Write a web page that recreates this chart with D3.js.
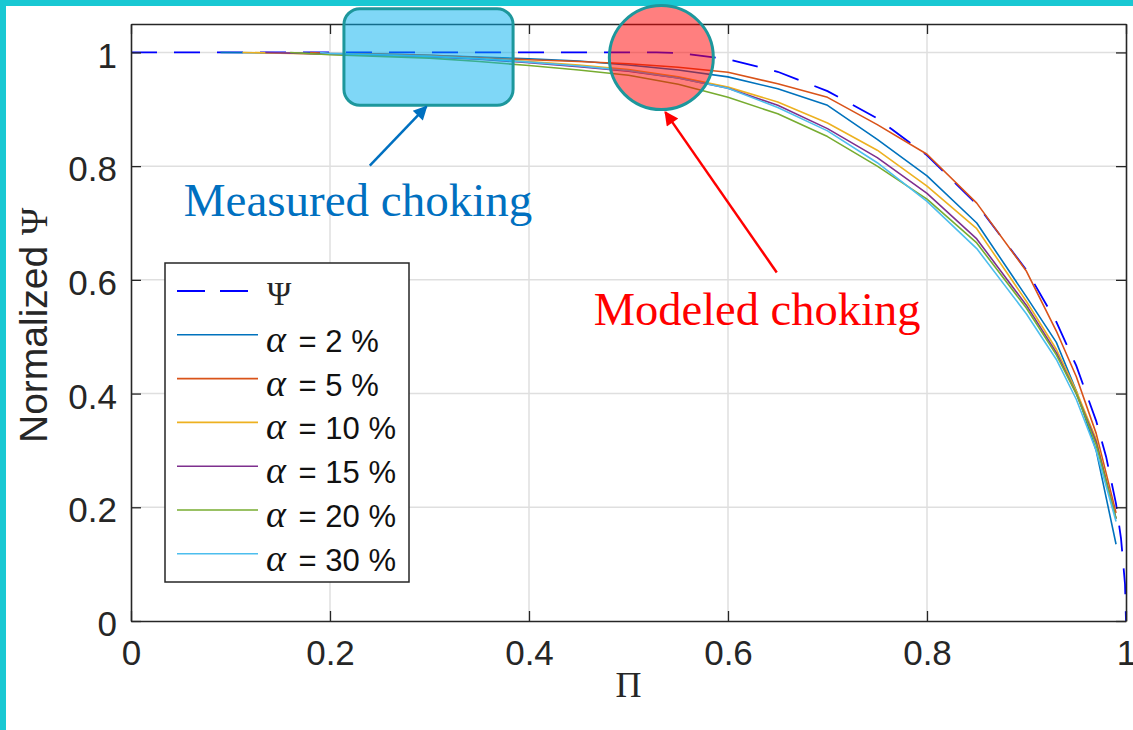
<!DOCTYPE html>
<html>
<head>
<meta charset="utf-8">
<script src="https://cdn.jsdelivr.net/npm/d3@7"></script>
<style>
  html, body { margin: 0; padding: 0; background: #fff; }
  svg { display: block; }
</style>
</head>
<body>
<svg id="chart" width="1133" height="730"></svg>
<script>
// Pressure ratio grid shared by the simulated curves
const piGrid = [0.2, 0.25, 0.3, 0.35, 0.4, 0.45, 0.5, 0.55, 0.6, 0.65, 0.7, 0.75, 0.8, 0.85, 0.9, 0.93, 0.95, 0.97, 0.99];

// Simulated normalized flow function for each air fraction alpha
const alphaLabels = ["2", "5", "10", "15", "20", "30"];
const alphaColors = ["#0072BD", "#D95319", "#EDB120", "#7E2F8E", "#77AC30", "#4DBEEE"];
const alphaStartPi = [0.09, 0.18, 0.112, 0.135, 0.16, 0.19];
const psiAlpha2  = [0.998, 0.997, 0.995, 0.992, 0.989, 0.985, 0.978, 0.969, 0.957, 0.936, 0.907, 0.847, 0.783, 0.700, 0.570, 0.490, 0.405, 0.300, 0.135];
const psiAlpha5  = [0.998, 0.997, 0.995, 0.991, 0.987, 0.984, 0.980, 0.974, 0.965, 0.945, 0.921, 0.873, 0.821, 0.735, 0.615, 0.510, 0.430, 0.330, 0.190];
const psiAlpha10 = [0.997, 0.995, 0.993, 0.989, 0.984, 0.978, 0.970, 0.957, 0.939, 0.913, 0.876, 0.828, 0.765, 0.690, 0.562, 0.478, 0.405, 0.320, 0.180];
const psiAlpha15 = [0.997, 0.995, 0.992, 0.988, 0.982, 0.975, 0.967, 0.955, 0.937, 0.907, 0.866, 0.815, 0.752, 0.672, 0.555, 0.472, 0.400, 0.315, 0.180];
const psiAlpha20 = [0.996, 0.993, 0.990, 0.984, 0.977, 0.969, 0.960, 0.944, 0.921, 0.892, 0.852, 0.800, 0.742, 0.665, 0.550, 0.468, 0.400, 0.310, 0.180];
const psiAlpha30 = [0.998, 0.996, 0.993, 0.989, 0.983, 0.976, 0.968, 0.955, 0.937, 0.903, 0.862, 0.806, 0.738, 0.655, 0.540, 0.460, 0.390, 0.300, 0.175];
const psiAlpha = [psiAlpha2, psiAlpha5, psiAlpha10, psiAlpha15, psiAlpha20, psiAlpha30];

// Ideal (isentropic) normalized flow function
const idealPi  = [0, 0.528, 0.55, 0.6, 0.65, 0.7, 0.75, 0.8, 0.85, 0.9, 0.93, 0.95, 0.97, 0.98, 0.99, 0.995, 0.999, 1.0];
const idealPsi = [1, 1, 0.999, 0.988, 0.966, 0.932, 0.884, 0.819, 0.733, 0.617, 0.526, 0.449, 0.352, 0.289, 0.206, 0.145, 0.065, 0];

// Axis ticks
const xTicks = [0, 0.2, 0.4, 0.6, 0.8, 1];
const yTicks = [0, 0.2, 0.4, 0.6, 0.8, 1];

const svg = d3.select("#chart");
const W = 1133, H = 730;
const margin = { left: 131, right: 7, top: 24, bottom: 109 };
const x = d3.scaleLinear().domain([0, 1]).range([margin.left, W - margin.right]);
const y = d3.scaleLinear().domain([0, 1.05]).range([H - margin.bottom, margin.top]);
const axisColor = "#262626";
const sans = "'Liberation Sans', Arial, sans-serif";
const serif = "'Liberation Serif', 'Times New Roman', serif";

// page frame
svg.append("rect").attr("x", 0).attr("y", 0).attr("width", W).attr("height", 6).attr("fill", "#19C8D3");
svg.append("rect").attr("x", 0).attr("y", 0).attr("width", 6).attr("height", H).attr("fill", "#19C8D3");

// grid
const grid = svg.append("g").attr("stroke", "#dfdfdf").attr("stroke-width", 1.5);
grid.selectAll("line.gx").data(xTicks.filter(d => d > 0 && d < 1)).join("line")
  .attr("x1", d => x(d)).attr("x2", d => x(d)).attr("y1", y(0)).attr("y2", y(1.05));
grid.selectAll("line.gy").data(yTicks.filter(d => d > 0)).join("line")
  .attr("y1", d => y(d)).attr("y2", d => y(d)).attr("x1", x(0)).attr("x2", x(1));

// curves
const line = d3.line().x(d => x(d[0])).y(d => y(d[1]));
const plot = svg.append("g").attr("fill", "none");

const idealPts = idealPi.map((p, i) => [p, idealPsi[i]]);
plot.append("path").datum(idealPts).attr("d", line)
  .attr("stroke", "#0000FF").attr("stroke-width", 1.8).attr("stroke-dasharray", "26,17");

psiAlpha.forEach((vals, k) => {
  const pts = [[alphaStartPi[k], 1]].concat(
    piGrid.map((p, i) => [p, vals[i]]).filter(d => d[0] > alphaStartPi[k]));
  plot.append("path").datum(pts).attr("d", line)
    .attr("stroke", alphaColors[k]).attr("stroke-width", 1.6).attr("stroke-linejoin", "round");
});

// axes (inward ticks on all four sides)
const fmt = d3.format("~g");
function styleAxis(g) {
  g.selectAll("path.domain").attr("stroke", axisColor).attr("stroke-width", 1.6);
  g.selectAll(".tick line").attr("stroke", axisColor).attr("stroke-width", 1.3);
  g.selectAll(".tick text").attr("fill", axisColor).attr("font-family", sans).attr("font-size", 35);
}
svg.append("g").attr("transform", `translate(0,${y(0)})`)
  .call(d3.axisBottom(x).tickValues(xTicks).tickFormat(fmt).tickSize(-10).tickSizeOuter(0).tickPadding(19))
  .call(styleAxis);
svg.append("g").attr("transform", `translate(${x(0)},0)`)
  .call(d3.axisLeft(y).tickValues(yTicks).tickFormat(fmt).tickSize(-10).tickSizeOuter(0).tickPadding(14))
  .call(styleAxis)
  .call(g => g.selectAll(".tick text").attr("dy", "0.42em"));
svg.append("g").attr("transform", `translate(0,${y(1.05)})`)
  .call(d3.axisTop(x).tickValues(xTicks).tickFormat("").tickSize(-10).tickSizeOuter(0))
  .call(styleAxis);
svg.append("g").attr("transform", `translate(${x(1)},0)`)
  .call(d3.axisRight(y).tickValues(yTicks).tickFormat("").tickSize(-10).tickSizeOuter(0))
  .call(styleAxis);

// axis titles
svg.append("text").attr("x", x(0.5)).attr("y", 697).attr("text-anchor", "middle")
  .attr("font-family", serif).attr("font-size", 36).attr("fill", axisColor).text("Π");
const yTitle = svg.append("text").attr("transform", `translate(47,${y(0.52)}) rotate(-90)`)
  .attr("text-anchor", "middle").attr("fill", axisColor);
yTitle.append("tspan").attr("font-family", sans).attr("font-size", 39).text("Normalized ");
yTitle.append("tspan").attr("font-family", serif).attr("font-size", 37).text("Ψ");

// legend
const legend = svg.append("g");
legend.append("rect").attr("x", 165).attr("y", 263).attr("width", 244).attr("height", 319)
  .attr("fill", "#fff").attr("stroke", axisColor).attr("stroke-width", 1.5);
const rowY = i => 291 + i * 43.8;
legend.append("line").attr("x1", 177).attr("x2", 258).attr("y1", rowY(0)).attr("y2", rowY(0))
  .attr("stroke", "#0000FF").attr("stroke-width", 1.8).attr("stroke-dasharray", "28,15");
legend.append("text").attr("x", 267).attr("y", rowY(0) + 14)
  .attr("font-family", serif).attr("font-size", 33).attr("fill", axisColor).text("Ψ");
alphaLabels.forEach((lab, k) => {
  const yy = rowY(k + 1);
  legend.append("line").attr("x1", 177).attr("x2", 258).attr("y1", yy).attr("y2", yy)
    .attr("stroke", alphaColors[k]).attr("stroke-width", 1.6);
  const t = legend.append("text").attr("x", 266).attr("y", yy + 17).attr("fill", "#111");
  t.append("tspan").attr("font-family", serif).attr("font-style", "italic").attr("font-size", 38).text("α");
  t.append("tspan").attr("font-family", sans).attr("font-size", 31).attr("dx", 4).text(` = ${lab} %`);
});

// annotations
const defs = svg.append("defs");
[["headBlue", "#0070C0"], ["headRed", "#FF0000"]].forEach(([id, c]) => {
  defs.append("marker").attr("id", id).attr("viewBox", "0 0 10 10").attr("refX", 9).attr("refY", 5)
    .attr("markerWidth", 17).attr("markerHeight", 14).attr("markerUnits", "userSpaceOnUse")
    .attr("orient", "auto").append("path").attr("d", "M0,0 L10,5 L0,10 Z").attr("fill", c);
});

const ann = svg.append("g");
ann.append("rect")
  .attr("x", x(0.214)).attr("y", y(1.077))
  .attr("width", x(0.384) - x(0.214)).attr("height", y(0.907) - y(1.077))
  .attr("rx", 16).attr("ry", 16)
  .attr("fill", "rgba(0,176,240,0.5)").attr("stroke", "#1D979C").attr("stroke-width", 3);
ann.append("circle").attr("cx", x(0.533)).attr("cy", y(0.991)).attr("r", 52)
  .attr("fill", "rgba(255,0,0,0.5)").attr("stroke", "#1D979C").attr("stroke-width", 3);

ann.append("line").attr("x1", x(0.240)).attr("y1", y(0.801)).attr("x2", x(0.297)).attr("y2", y(0.905))
  .attr("stroke", "#0070C0").attr("stroke-width", 2.5).attr("marker-end", "url(#headBlue)");
ann.append("line").attr("x1", x(0.649)).attr("y1", y(0.613)).attr("x2", x(0.537)).attr("y2", y(0.895))
  .attr("stroke", "#FF0000").attr("stroke-width", 2.5).attr("marker-end", "url(#headRed)");

ann.append("text").attr("x", x(0.053)).attr("y", y(0.713))
  .attr("font-family", serif).attr("font-size", 47).attr("fill", "#0070C0").text("Measured choking");
ann.append("text").attr("x", x(0.465)).attr("y", y(0.52))
  .attr("font-family", serif).attr("font-size", 46.5).attr("fill", "#FF0000").text("Modeled choking");
</script>
</body>
</html>
